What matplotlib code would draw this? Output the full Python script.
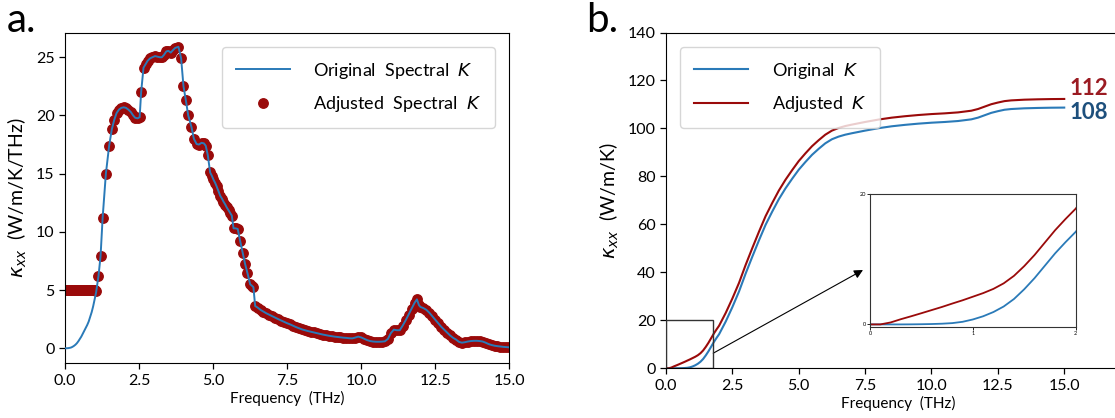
import numpy as np
import matplotlib
matplotlib.use("Agg")
import matplotlib.pyplot as plt
from matplotlib.patches import Rectangle

plt.rcParams['font.family'] = ['Lato', 'DejaVu Sans']
plt.rcParams['mathtext.fontset'] = 'dejavusans'

# ---------------- data: panel a (spectral kappa) ----------------
freq_spec = [0.00, 0.05, 0.10, 0.15, 0.20, 0.25, 0.30, 0.35, 0.40, 0.45, 0.50, 0.55,
             0.60, 0.65, 0.70, 0.75, 0.80, 0.85, 0.90, 0.95, 1.00, 1.05,
             1.13, 1.20, 1.27, 1.38, 1.49, 1.58, 1.66, 1.74, 1.82, 1.90, 1.98, 2.06,
             2.14, 2.22, 2.30, 2.37, 2.45, 2.52, 2.57, 2.65, 2.72, 2.79, 2.87, 2.95,
             3.04, 3.12, 3.20, 3.27, 3.34, 3.42, 3.49, 3.57, 3.64, 3.72, 3.83, 3.92,
             4.00, 4.08, 4.16, 4.27, 4.35, 4.44, 4.52, 4.61, 4.69, 4.75, 4.82, 4.90,
             4.96, 5.01, 5.07, 5.12, 5.18, 5.24, 5.30, 5.35, 5.41, 5.46, 5.52, 5.58,
             5.63, 5.69, 5.76, 5.83, 5.91, 6.00, 6.08, 6.16, 6.25, 6.32, 6.36, 6.42,
             6.50, 6.60, 6.70, 6.80, 6.90, 7.00, 7.10, 7.20, 7.30, 7.40, 7.50, 7.60,
             7.70, 7.80, 7.90, 8.00, 8.10, 8.20, 8.30, 8.40, 8.50, 8.60, 8.70, 8.80,
             8.90, 9.00, 9.10, 9.20, 9.30, 9.40, 9.50, 9.60, 9.70, 9.80, 9.90, 10.00,
             10.10, 10.20, 10.30, 10.40, 10.50, 10.60, 10.70, 10.80, 10.90, 11.00,
             11.10, 11.20, 11.30, 11.40, 11.50, 11.60, 11.70, 11.80, 11.88, 11.95,
             12.00, 12.10, 12.20, 12.30, 12.40, 12.50, 12.60, 12.70, 12.80, 12.90,
             13.00, 13.10, 13.20, 13.30, 13.40, 13.50, 13.60, 13.70, 13.80, 13.90,
             14.00, 14.10, 14.20, 14.30, 14.40, 14.50, 14.60, 14.70, 14.80, 14.90, 15.00]
orig_spec = [0.00, 0.00, 0.01, 0.03, 0.06, 0.12, 0.20, 0.30, 0.43, 0.60, 0.80, 1.00,
             1.25, 1.50, 1.75, 2.00, 2.30, 2.70, 3.10, 3.60, 4.20, 4.80,
             6.20, 7.90, 11.20, 15.00, 17.40, 18.80, 19.60, 20.20, 20.50, 20.65, 20.70, 20.65,
             20.50, 20.30, 20.00, 19.80, 19.75, 19.85, 22.00, 24.10, 24.40, 24.70, 24.90, 25.00,
             25.10, 25.05, 25.00, 25.00, 25.20, 25.50, 25.55, 25.40, 25.60, 25.80, 25.90, 24.90,
             22.50, 21.30, 20.00, 19.00, 18.00, 17.55, 17.50, 17.65, 17.60, 17.40, 16.60, 15.10,
             14.80, 14.50, 14.20, 13.90, 13.50, 13.10, 12.85, 12.60, 12.35, 12.10, 11.85, 11.60,
             11.40, 10.30, 10.30, 10.25, 9.25, 8.20, 7.24, 6.45, 5.50, 5.35, 5.25, 3.63,
             3.50, 3.30, 3.15, 3.00, 2.88, 2.75, 2.62, 2.50, 2.38, 2.26, 2.15, 2.05,
             1.93, 1.82, 1.72, 1.62, 1.55, 1.48, 1.42, 1.36, 1.30, 1.24, 1.18, 1.13,
             1.08, 1.04, 1.00, 0.97, 0.94, 0.91, 0.89, 0.86, 0.85, 0.92, 1.00, 0.93,
             0.82, 0.70, 0.62, 0.58, 0.56, 0.56, 0.57, 0.60, 0.80, 1.30,
             1.60, 1.55, 1.55, 1.95, 2.40, 2.90, 3.40, 3.90, 4.20, 3.70,
             3.55, 3.45, 3.30, 3.05, 2.75, 2.45, 2.15, 1.85, 1.60, 1.35,
             1.10, 0.90, 0.75, 0.55, 0.48, 0.52, 0.58, 0.62, 0.64, 0.64,
             0.62, 0.58, 0.48, 0.36, 0.28, 0.22, 0.18, 0.15, 0.12, 0.10, 0.08]
# adjusted spectral kappa below ~1.07 THz (floor value)
adj_low_freq = [0.00, 0.05, 0.10, 0.15, 0.20, 0.25, 0.30, 0.35, 0.40, 0.45, 0.50, 0.55,
                0.60, 0.65, 0.70, 0.75, 0.80, 0.85, 0.90, 0.95, 1.00, 1.05]
adj_low_vals = [5.0, 5.0, 5.0, 5.0, 5.0, 5.0, 5.0, 5.0, 5.0, 5.0, 5.0, 5.0,
                5.0, 5.0, 5.0, 5.0, 5.0, 5.0, 5.0, 5.0, 5.0, 4.95]

# ---------------- data: panel b (cumulative kappa) ----------------
freq_cum = [0.0, 0.1, 0.2, 0.3, 0.4, 0.5, 0.6, 0.7, 0.8, 0.9, 1.0, 1.1, 1.2, 1.3,
            1.4, 1.5, 1.6, 1.7, 1.8, 1.9, 2.0, 2.25, 2.5, 2.75, 3.0, 3.25, 3.5, 3.75,
            4.0, 4.25, 4.5, 4.75, 5.0, 5.25, 5.5, 5.75, 6.0, 6.25, 6.5, 6.75, 7.0,
            7.5, 8.0, 8.5, 9.0, 9.5, 10.0, 10.5, 11.0, 11.5, 11.75, 12.0, 12.25,
            12.5, 12.75, 13.0, 13.5, 14.0, 14.5, 15.0]
orig_cum = [0.0, 0.0, 0.0, 0.0, 0.01, 0.03, 0.06, 0.11, 0.20, 0.40, 0.76, 1.25, 1.90, 2.75,
            3.90, 5.40, 7.10, 9.00, 10.90, 12.60, 14.20, 19.50, 25.50, 32.00, 39.50, 46.50,
            53.30, 59.80, 65.30, 70.50, 75.00, 79.00, 82.80, 86.00, 89.00, 91.50, 93.80,
            95.50, 96.60, 97.40, 98.00, 99.10, 100.10, 100.90, 101.50, 102.00, 102.40,
            102.70, 103.10, 103.80, 104.50, 105.50, 106.50, 107.20, 107.80, 108.10,
            108.40, 108.55, 108.65, 108.70]
adj_cum = [0.0, 0.0, 0.30, 0.80, 1.25, 1.72, 2.20, 2.68, 3.20, 3.70, 4.25, 4.80, 5.45, 6.30,
           7.45, 8.95, 10.65, 12.55, 14.45, 16.15, 17.75, 23.10, 29.10, 35.60, 43.10, 50.10,
           56.90, 63.40, 68.90, 74.10, 78.60, 82.60, 86.40, 89.60, 92.60, 95.10, 97.40,
           99.10, 100.20, 101.00, 101.60, 102.70, 103.70, 104.50, 105.10, 105.60, 106.00,
           106.30, 106.70, 107.40, 108.10, 109.10, 110.10, 110.80, 111.40, 111.70,
           112.00, 112.15, 112.25, 112.30]
final_labels = ['112', '108']

# ---------------- styling ----------------
blue = '#2a7ab8'
red = '#9a0a0a'
lab_red = '#9b1b22'
lab_blue = '#1d4f7c'

fig = plt.figure(figsize=(11.15, 4.18), dpi=100)

leg_kw = dict(fontsize=13, handlelength=3.0, labelspacing=0.75, borderpad=0.75,
              handletextpad=1.3, borderaxespad=0.8)

# ---- panel a ----
ax1 = fig.add_axes([0.0583, 0.1309, 0.3985, 0.7909])
dot_f = adj_low_freq + [f for f in freq_spec if f > 1.08]
dot_v = adj_low_vals + [v for f, v in zip(freq_spec, orig_spec) if f > 1.08]
ax1.plot(dot_f, dot_v, 'o', color=red, ms=6.8, mec=red, zorder=2,
         label='Adjusted  Spectral  $K$')
ax1.plot(freq_spec, orig_spec, '-', color=blue, lw=1.4, zorder=3,
         label='Original  Spectral  $K$')
ax1.set_xlim(0, 15)
ax1.set_ylim(-1.29, 27.11)
ax1.set_xticks([0, 2.5, 5.0, 7.5, 10.0, 12.5, 15.0])
ax1.set_xticklabels(['0.0', '2.5', '5.0', '7.5', '10.0', '12.5', '15.0'])
ax1.set_yticks([0, 5, 10, 15, 20, 25])
ax1.tick_params(labelsize=11.5, length=4, width=0.9)
ax1.set_xlabel('Frequency  (THz)', fontsize=11, labelpad=2)
ax1.set_ylabel(r'$\kappa_{xx}$  (W/m/K/THz)', fontsize=14, labelpad=5)
h, l = ax1.get_legend_handles_labels()
ax1.legend([h[1], h[0]], [l[1], l[0]], loc='upper right', **leg_kw)

# ---- panel b ----
ax2 = fig.add_axes([0.5973, 0.1189, 0.4167, 0.8033])
ax2.plot(freq_cum, orig_cum, '-', color=blue, lw=1.5, label='Original  $K$')
ax2.plot(freq_cum, adj_cum, '-', color=red, lw=1.5, label='Adjusted  $K$')
ax2.set_xlim(0, 17.5)
ax2.set_ylim(0, 140)
ax2.set_xticks([0, 2.5, 5.0, 7.5, 10.0, 12.5, 15.0])
ax2.set_xticklabels(['0.0', '2.5', '5.0', '7.5', '10.0', '12.5', '15.0'])
ax2.set_yticks([0, 20, 40, 60, 80, 100, 120, 140])
ax2.tick_params(labelsize=11.5, length=4, width=0.9)
ax2.set_xlabel('Frequency  (THz)', fontsize=11, labelpad=2)
ax2.set_ylabel(r'$\kappa_{xx}$  (W/m/K)', fontsize=14, labelpad=5)
ax2.legend(loc='upper left', **leg_kw)
ax2.text(15.2, 116.6, final_labels[0], color=lab_red, fontsize=16, fontweight='bold',
         ha='left', va='center')
ax2.text(15.2, 106.6, final_labels[1], color=lab_blue, fontsize=16, fontweight='bold',
         ha='left', va='center')
ax2.add_patch(Rectangle((0, 0), 1.76, 20, fill=False, edgecolor='#333333', lw=1.0,
                        zorder=4))
ax2.annotate('', xy=(863 / 1115, (418 - 270) / 418), xycoords='figure fraction',
             xytext=(1.78, 6.3), textcoords='data',
             arrowprops=dict(arrowstyle='-|>', color='k', lw=0.8, mutation_scale=13,
                             shrinkA=0, shrinkB=0))

# ---- inset ----
axi = fig.add_axes([870 / 1115, (418 - 326.7) / 418, 205.7 / 1115, 132.7 / 418])
axi.plot(freq_cum, orig_cum, '-', color=blue, lw=1.3)
axi.plot(freq_cum, adj_cum, '-', color=red, lw=1.3)
axi.set_xlim(0, 2)
axi.set_ylim(-0.35, 20)
axi.set_xticks([0, 1, 2])
axi.set_yticks([0, 20])
axi.tick_params(labelsize=4, length=2, width=0.6, pad=1)
for s in axi.spines.values():
    s.set_linewidth(0.8)
    s.set_color('#333333')

fig.text(7 / 1115, (418 - 32) / 418, 'a.', fontsize=29, ha='left', va='baseline')
fig.text(586 / 1115, (418 - 32) / 418, 'b.', fontsize=29, ha='left', va='baseline')

fig.savefig('out.png', dpi=100)
